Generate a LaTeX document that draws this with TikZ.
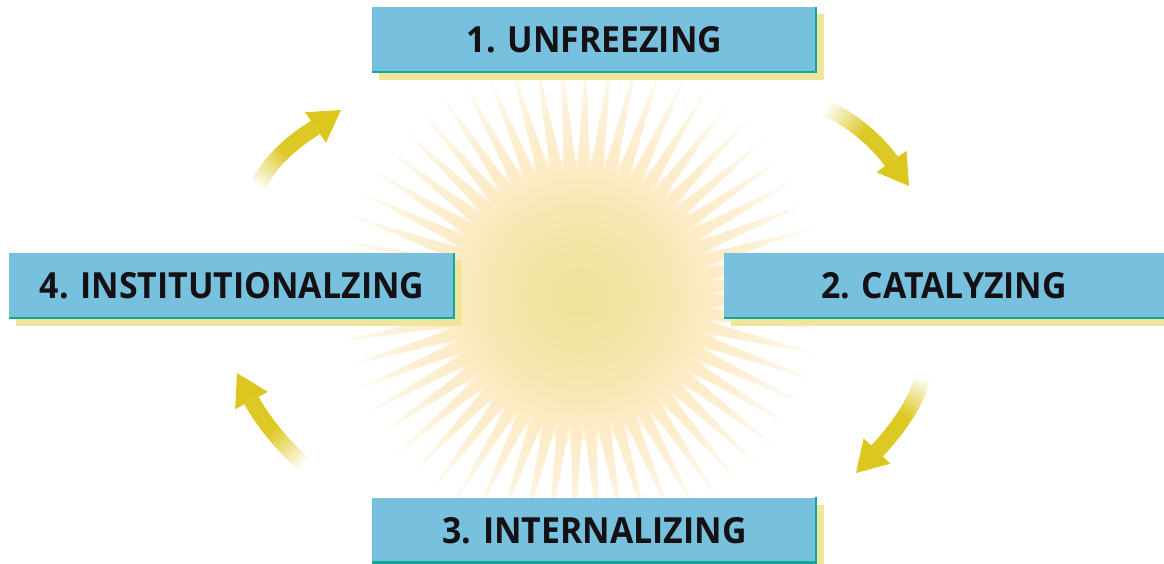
\documentclass[tikz,border=0pt]{standalone}
\usepackage{fontspec}
\setmainfont{Open Sans}[FakeStretch=0.94]
\usetikzlibrary{calc,shadows}
\definecolor{boxfill}{HTML}{77C1DF}
\definecolor{boxedge}{HTML}{10A89C}
\definecolor{boxshadow}{HTML}{EFE59B}
\definecolor{arrowY}{HTML}{DCC71F}
\definecolor{txt}{HTML}{141014}
\definecolor{glowA}{HTML}{EDE39B}
\definecolor{glowB}{HTML}{EFE4A1}
\definecolor{glowC}{HTML}{F6E7B1}
\definecolor{glowD}{HTML}{FCEAC2}
\definecolor{rayB}{HTML}{FCEFD4}
\pgfdeclareradialshading{glowshade}{\pgfpoint{0bp}{0bp}}{color(0bp)=(glowA); color(6.7bp)=(glowB); color(15bp)=(glowC); color(20.5bp)=(glowD); color(25bp)=(white); color(50bp)=(white)}
\pgfdeclareradialshading{rayshade}{\pgfpoint{0bp}{0bp}}{color(0bp)=(glowA); color(3.94bp)=(glowB); color(8.86bp)=(glowC); color(12.1bp)=(glowD); color(17.7bp)=(rayB); color(25bp)=(white); color(50bp)=(white)}
\tikzset{
  stagebox/.style={fill=boxfill, minimum width=445pt, minimum height=66pt, text=txt,
    font=\fontsize{36}{40}\selectfont\bfseries,
    drop shadow={shadow xshift=7pt, shadow yshift=-7pt, fill=boxshadow, opacity=1}},
  edgeline/.style={draw=boxedge, line width=2.4pt},
}
\newcommand\sunarrow[5]{%
  \path (#1) .. controls (#2) and (#3) .. (#4)
    \foreach \aidx in {0,...,30}{ coordinate[pos=\aidx/30] (q\aidx) };
  \foreach \aidx in {0,...,29}{
    \pgfmathtruncatemacro\bidx{\aidx+1}%
    \pgfmathtruncatemacro\cpct{min(100,4+190*\aidx/30)}%
    \draw[line width=16pt, color=arrowY!\cpct!white] (q\aidx) -- (q\bidx);
  }
  \fill[arrowY] (#5) -- ($(#4)!18.5pt!90:(#5)$) -- ($(#4)!18.5pt!-90:(#5)$) -- cycle;
}
\begin{document}
\begin{tikzpicture}[x=1pt,y=-1pt]
\useasboundingbox (0,0) rectangle (1164,564);
\coordinate (C) at (580,297);
% sunburst
\shade[shading=glowshade] (C) circle (150);
\begin{scope}
  \clip[shift={(C)}] \foreach \i in {0,...,59}{
     (0,0) -- (\i*6+1.5-3.1:120) -- (\i*6+1.5:254) -- (\i*6+1.5+3.1:120) -- cycle };
  \shade[shading=rayshade] (C) circle (254);
\end{scope}
% boxes
\node[stagebox] (b1) at (594.5,40) {1. UNFREEZING};
\node[stagebox, minimum width=440pt] (b2) at (944,286) {2. CATALYZING};
\node[stagebox] (b3) at (594.5,530.5) {3. INTERNALIZING};
\node[stagebox, minimum width=446pt] (b4) at (232,286) {4. INSTITUTIONALZING};
\draw[edgeline] ([xshift=-1.2pt]b1.north east) |- ([yshift=1.2pt]b1.south west);
\draw[edgeline] ([yshift=1.2pt]b2.south east) -- ([yshift=1.2pt]b2.south west);
\draw[edgeline] ([xshift=-1.2pt]b3.north east) |- ([yshift=1.2pt]b3.south west);
\draw[edgeline] ([xshift=-1.2pt]b4.north east) |- ([yshift=1.2pt]b4.south west);
% arrows
\coordinate (t1) at (826,108); \coordinate (h1) at (891.5,161.5); \coordinate (p1) at (909,186);
\coordinate (t2) at (922,378); \coordinate (h2) at (877,451); \coordinate (p2) at (856,473);
\coordinate (t3) at (305,465); \coordinate (h3) at (251.5,400.5); \coordinate (p3) at (237,373);
\coordinate (t4) at (257,187); \coordinate (h4) at (315.5,127.5); \coordinate (p4) at (341,110);
\coordinate (k1a) at (852,120); \coordinate (k1b) at (876,140);
\coordinate (k2a) at (918,400); \coordinate (k2b) at (897,430);
\coordinate (k3a) at (283,447); \coordinate (k3b) at (260,417);
\coordinate (k4a) at (271,160); \coordinate (k4b) at (292,142);
\sunarrow{t1}{k1a}{k1b}{h1}{p1}
\sunarrow{t2}{k2a}{k2b}{h2}{p2}
\sunarrow{t3}{k3a}{k3b}{h3}{p3}
\sunarrow{t4}{k4a}{k4b}{h4}{p4}
\end{tikzpicture}
\end{document}
